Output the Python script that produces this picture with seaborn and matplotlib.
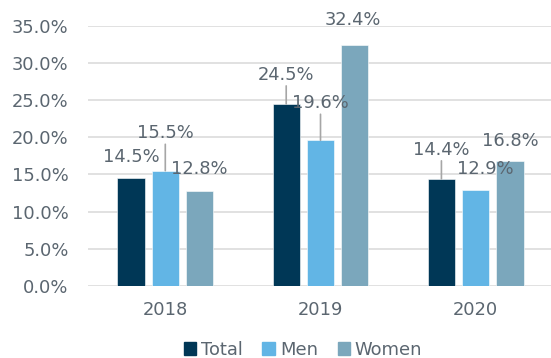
import matplotlib
matplotlib.use("Agg")
import matplotlib.pyplot as plt
import seaborn as sns
import pandas as pd
from matplotlib.ticker import PercentFormatter

years = ["2018", "2019", "2020"]
groups = ["Total", "Men", "Women"]
total = [0.145, 0.245, 0.144]
men = [0.155, 0.196, 0.129]
women = [0.128, 0.324, 0.168]

colors = {"Total": "#003756", "Men": "#62b5e5", "Women": "#7ba7bc"}
text_color = "#5b6670"
fs = 12.9

df = pd.DataFrame({
    "year": years * 3,
    "group": [g for g in groups for _ in years],
    "value": total + men + women,
})

sns.set_theme(style="white")
plt.rcParams["font.family"] = ["DejaVu Sans"]

fig = plt.figure(figsize=(5.51, 3.58), dpi=100)
ax = fig.add_axes([88 / 551, 72.3 / 358, 1 - 88 / 551, 259.7 / 358])

sns.barplot(data=df, x="year", y="value", hue="group", hue_order=groups,
            palette=colors, saturation=1, width=0.663, gap=0.21, ax=ax,
            legend=False, edgecolor="white", linewidth=0.4, zorder=3)

ax.set_ylim(0, 0.35)
ax.set_xlim(-0.498, 2.485)
ax.set_yticks([i * 0.05 for i in range(8)])
ax.yaxis.set_major_formatter(PercentFormatter(1.0, decimals=1))
ax.grid(axis="y", color="#d9d9d9", linewidth=1.1, zorder=0)
ax.set_axisbelow(True)
for s in ax.spines.values():
    s.set_visible(False)
ax.tick_params(axis="y", length=0, pad=14, labelsize=fs, labelcolor=text_color)
ax.tick_params(axis="x", length=0, pad=11, labelsize=fs, labelcolor=text_color)
ax.set_xlabel("")
ax.set_ylabel("")

# label offsets (pixels) of each text centre from the top-centre of its bar
offsets = {
    "Total": [(0, 21.6), (0, 29), (0, 29)],
    "Men": [(0, 37.4), (0, 37), (10, 20.7)],
    "Women": [(0, 21.4), (-2, 25), (0, 20.3)],
}

for cont, g in zip(ax.containers, groups):
    for bar, (dx, dy) in zip(cont, offsets[g]):
        h = bar.get_height()
        xc = bar.get_x() + bar.get_width() / 2
        ax.annotate(f"{h * 100:.1f}%", xy=(xc, h), xycoords="data",
                    xytext=(dx, dy), textcoords="offset pixels",
                    ha="center", va="center", fontsize=fs, color=text_color,
                    zorder=5, annotation_clip=False)
        if dy > 27:
            ax.annotate("", xy=(xc, h), xycoords="data",
                        xytext=(0, dy - 11), textcoords="offset pixels",
                        arrowprops=dict(arrowstyle="-", color="#a6a6a6",
                                        linewidth=1.2, shrinkA=0, shrinkB=0),
                        zorder=4)

handles = [plt.Rectangle((0, 0), 1, 1, color=colors[g]) for g in groups]
fig.legend(handles, groups, loc="center", bbox_to_anchor=(303 / 551, 1 - 350 / 358),
           ncol=3, frameon=False, fontsize=fs, labelcolor=text_color,
           handlelength=0.72, handleheight=0.72, handletextpad=0.25,
           columnspacing=1.1)

fig.savefig("out.png", dpi=100)
